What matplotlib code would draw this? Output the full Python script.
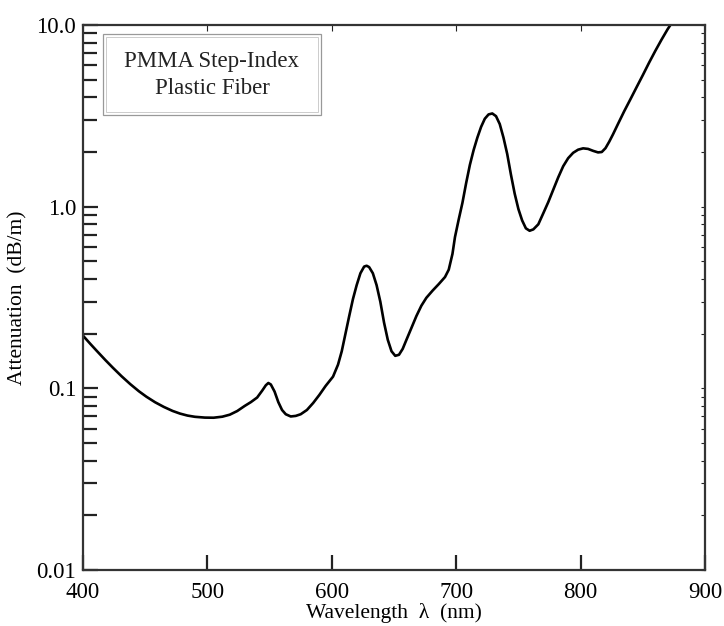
import matplotlib
matplotlib.use("Agg")
import matplotlib.pyplot as plt
from matplotlib.patches import Rectangle
from matplotlib.ticker import FixedLocator, NullFormatter, FixedFormatter

plt.rcParams['font.family'] = ['Liberation Serif', 'DejaVu Serif']

# values
wavelength = [400, 406, 411, 418, 424, 431, 438, 445, 451, 458, 465, 472, 478,
              484, 490, 498, 505, 512, 518, 524, 530, 535, 540, 544, 547, 549,
              551, 554, 557, 560, 563, 567, 571, 575, 580, 585, 590, 595, 601,
              605, 608, 611, 614, 617, 620, 623, 626, 628, 630, 633, 636, 639,
              642, 645, 648, 651, 654, 657, 660, 664, 668, 672, 676, 681, 686,
              691, 694, 697, 699, 702, 705, 708, 711, 714, 717, 720, 723, 726,
              729, 732, 735, 738, 741, 744, 747, 750, 753, 756, 759, 762, 766,
              770, 774, 778, 782, 786, 790, 794, 798, 802, 806, 810, 814, 817,
              820, 823, 826, 830, 835, 840, 845, 850, 855, 860, 865, 870, 873,
              880]
attenuation = [0.195, 0.1754, 0.161, 0.1431, 0.1299, 0.1166, 0.1055, 0.0963,
               0.0899, 0.0838, 0.0790, 0.0751, 0.0726, 0.0708, 0.0697, 0.069,
               0.0689, 0.0698, 0.0716, 0.075, 0.080, 0.084, 0.089, 0.097,
               0.104, 0.107, 0.105, 0.096, 0.084, 0.076, 0.072, 0.070, 0.0705,
               0.072, 0.076, 0.083, 0.092, 0.103, 0.116, 0.135, 0.16, 0.2,
               0.25, 0.31, 0.37, 0.43, 0.468, 0.473, 0.465, 0.43, 0.37, 0.30,
               0.23, 0.185, 0.16, 0.151, 0.153, 0.165, 0.185, 0.215, 0.25,
               0.285, 0.315, 0.345, 0.375, 0.41, 0.45, 0.55, 0.68, 0.85, 1.05,
               1.35, 1.7, 2.05, 2.4, 2.75, 3.05, 3.22, 3.26, 3.15, 2.85, 2.4,
               1.95, 1.5, 1.18, 0.97, 0.84, 0.76, 0.737, 0.75, 0.8, 0.92, 1.06,
               1.24, 1.45, 1.67, 1.85, 1.98, 2.06, 2.095, 2.08, 2.03, 1.99,
               2.0, 2.1, 2.28, 2.5, 2.85, 3.35, 3.9, 4.55, 5.3, 6.2, 7.2, 8.3,
               9.5, 10.2, 12.0]

xticks = [400, 500, 600, 700, 800, 900]
yticks = [0.01, 0.1, 1.0, 10.0]
ytick_labels = ["0.01", "0.1", "1.0", "10.0"]

fig = plt.figure(figsize=(7.24, 6.26), dpi=100)
ax = fig.add_axes([0.1146, 0.0895, 0.8592, 0.8705])

ax.plot(wavelength, attenuation, color="black", lw=1.9,
        solid_joinstyle="round", solid_capstyle="round")

ax.set_yscale("log")
ax.set_xlim(400, 900)
ax.set_ylim(0.01, 10.0)

ax.xaxis.set_major_locator(FixedLocator(xticks))
ax.yaxis.set_major_locator(FixedLocator(yticks))
ax.yaxis.set_major_formatter(FixedFormatter(ytick_labels))
minor = [m * d for d in (0.01, 0.1, 1.0) for m in range(2, 10)]
ax.yaxis.set_minor_locator(FixedLocator(minor))
ax.yaxis.set_minor_formatter(NullFormatter())

ax.tick_params(axis="both", which="major", direction="in", length=11,
               width=1.6, color="#222222", labelsize=16.5)
ax.tick_params(axis="y", which="minor", direction="in", length=10,
               width=1.6, color="#222222")
ax.tick_params(axis="x", which="major", pad=9)
ax.tick_params(axis="y", which="major", pad=5)
ax.tick_params(top=True, right=True, which="both")
for t in ax.xaxis.get_major_ticks():
    t.tick2line.set_color("#bbbbbb")
    t.tick2line.set_markersize(4)
    t.tick2line.set_markeredgewidth(0.8)
for t in ax.yaxis.get_major_ticks() + ax.yaxis.get_minor_ticks():
    t.tick2line.set_color("#bbbbbb")
    t.tick2line.set_markersize(3)
    t.tick2line.set_markeredgewidth(0.8)

for s in ax.spines.values():
    s.set_linewidth(1.6)
    s.set_color("#333333")

ax.set_xlabel("Wavelength  λ  (nm)", fontsize=15.5, labelpad=0)
ax.set_ylabel("Attenuation  (dB/m)", fontsize=15.5, labelpad=6)

# boxed label with a double gray frame
fig.patches.append(Rectangle((103 / 724, 1 - 115 / 626), 218 / 724, 81 / 626,
                             transform=fig.transFigure, fill=False,
                             edgecolor="#999999", lw=0.9))
fig.patches.append(Rectangle((106 / 724, 1 - 112 / 626), 212 / 724, 75 / 626,
                             transform=fig.transFigure, fill=False,
                             edgecolor="#cccccc", lw=0.7))
fig.text(212 / 724, 1 - 62 / 626, "PMMA Step-Index", ha="center", va="center",
         fontsize=16.5, color="#222222")
fig.text(212 / 724, 1 - 89 / 626, "Plastic Fiber", ha="center", va="center",
         fontsize=16.5, color="#222222")

fig.savefig("out.png", dpi=100)
